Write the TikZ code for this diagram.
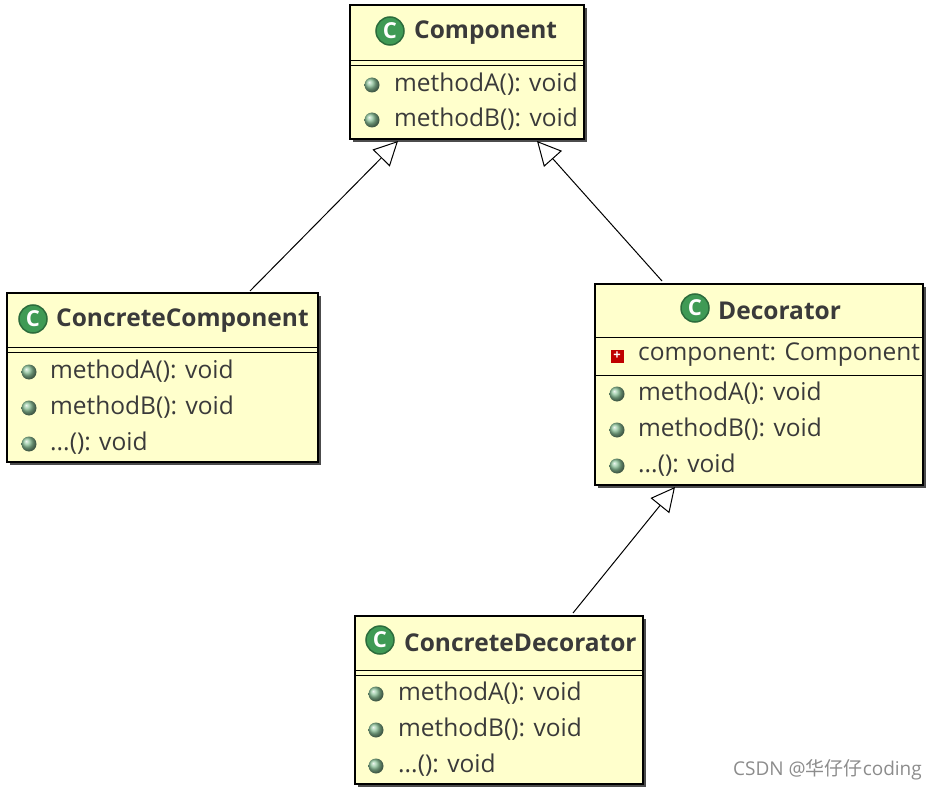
\documentclass[tikz,border=0pt]{standalone}
\usepackage{fontspec}
\setmainfont{Open Sans}
\newfontfamily\cjk{Noto Sans CJK SC}
\usetikzlibrary{arrows.meta}
\definecolor{boxfill}{HTML}{FFFFCC}
\definecolor{txt}{HTML}{3A3A3A}
\definecolor{grn}{HTML}{3F9A55}
\tikzset{
 box/.style={draw=black,line width=1.2pt,fill=boxfill},
 shadow/.style={fill=black!70},
 title/.style={font=\fontsize{24.5}{28}\selectfont\bfseries,text=txt,anchor=west,inner sep=0},
 meth/.style={font=\fontsize{24.5}{28}\selectfont,text=txt,anchor=west,inner sep=0},
 dot/.style={circle,minimum size=15pt,inner sep=0,ball color=grn!60!white,draw=none},
 inh/.style={-{Triangle[open,length=24pt,width=24pt,fill=white]},line width=1pt},
}
\newcommand{\cicon}[2]{\node[circle,fill=grn,draw=grn!70!black,line width=1.5pt,minimum size=28pt,inner sep=0,font=\fontsize{22}{22}\selectfont\bfseries,text=white] (#1) at #2 {C};}
\begin{document}
\begin{tikzpicture}[x=1pt,y=-1pt]
\useasboundingbox (0,0) rectangle (930,789);
% Component
\fill[shadow] (353,8) rectangle (587,142);
\draw[box] (350,5) rectangle (584,139);
\cicon{ci1}{(390,31)}
\node[title] (t1) at (414,33) {Component};
\draw (350,60) -- (584,60) (350,65) -- (584,65);
\node[dot] (d11) at (372,85) {}; \node[meth] (m11) at (394,84) {methodA(): void};
\node[dot] (d12) at (372,120) {}; \node[meth] (m12) at (394,119) {methodB(): void};
% ConcreteComponent
\fill[shadow] (10,296) rectangle (321,465);
\draw[box] (7,293) rectangle (318,462);
\cicon{ci2}{(33,319)}
\node[title] (t2) at (56,321) {ConcreteComponent};
\draw (7,347) -- (318,347) (7,352) -- (318,352);
\node[dot] (d21) at (29,372) {}; \node[meth] (m21) at (50,371) {methodA(): void};
\node[dot] (d22) at (29,408) {}; \node[meth] (m22) at (50,407) {methodB(): void};
\node[dot] (d23) at (29,444) {}; \node[meth] (m23) at (50,443) {...(): void};
% Decorator
\fill[shadow] (598,287) rectangle (926,488);
\draw[box] (595,284) rectangle (923,485);
\cicon{ci3}{(695,308)}
\node[title] (t3) at (718,311) {Decorator};
\draw (595,337) -- (923,337);
\node[fill=red!75!black,minimum size=13pt,inner sep=0,text=white,font=\fontsize{13}{13}\selectfont\bfseries] (a31) at (617,356) {+};
\node[meth] (m30) at (638,355) {component: Component};
\draw (595,375) -- (923,375);
\node[dot] (d31) at (617,394) {}; \node[meth] (m31) at (638,393) {methodA(): void};
\node[dot] (d32) at (617,430) {}; \node[meth] (m32) at (638,429) {methodB(): void};
\node[dot] (d33) at (617,466) {}; \node[meth] (m33) at (638,465) {...(): void};
% ConcreteDecorator
\fill[shadow] (358,619) rectangle (646,787);
\draw[box] (355,616) rectangle (643,784);
\cicon{ci4}{(380,640)}
\node[title] (t4) at (404,643) {ConcreteDecorator};
\draw (355,670) -- (643,670) (355,675) -- (643,675);
\node[dot] (d41) at (376,694) {}; \node[meth] (m41) at (398,693) {methodA(): void};
\node[dot] (d42) at (376,730) {}; \node[meth] (m42) at (398,729) {methodB(): void};
\node[dot] (d43) at (376,766) {}; \node[meth] (m43) at (398,765) {...(): void};
% arrows
\coordinate (s1) at (250,291); \coordinate (e1) at (398,141);
\coordinate (s2) at (662,281); \coordinate (e2) at (537,141);
\coordinate (s3) at (573,613); \coordinate (e3) at (675,487);
\draw[inh] (s1) -- (e1);
\draw[inh] (s2) -- (e2);
\draw[inh] (s3) -- (e3);
\node[anchor=east,text=black!45,font=\fontsize{19}{22}\selectfont,inner sep=0] (wm) at (922,770) {CSDN @{\cjk 华仔仔}coding};
\end{tikzpicture}
\end{document}
